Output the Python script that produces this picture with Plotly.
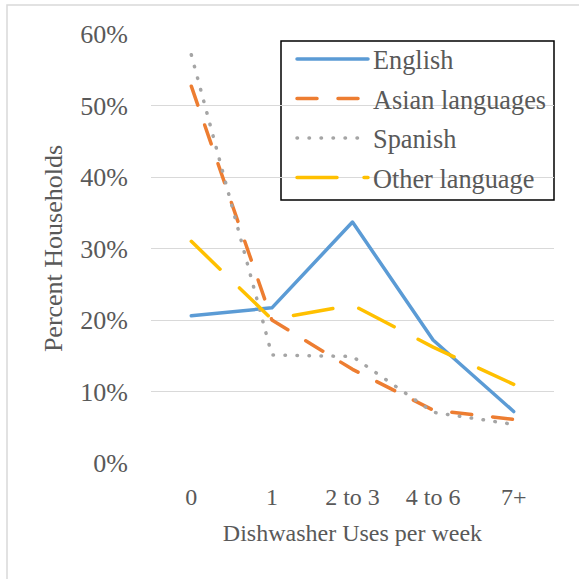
import plotly.graph_objects as go

# Weekly dishwasher use by household language
categories = ["0", "1", "2 to 3", "4 to 6", "7+"]
english = [0.206, 0.217, 0.337, 0.172, 0.072]
asian = [0.527, 0.200, 0.131, 0.074, 0.061]
spanish = [0.571, 0.151, 0.149, 0.071, 0.054]
other = [0.310, 0.201, 0.221, 0.162, 0.110]

series = [
    ("English", english, "#5B9BD5", "solid"),
    ("Asian languages", asian, "#ED7D31", "20px,21px"),
    ("Spanish", spanish, "#A5A5A5", "0.5px,11.5px"),
    ("Other language", other, "#FFC000", "40px,27px"),
]

FONT = "Liberation Serif"
TXT = "#595959"

fig = go.Figure()
for name, vals, color, dash in series:
    fig.add_trace(go.Scatter(
        x=categories, y=vals, name=name, mode="lines",
        legendgroup=name,
        line=dict(color=color, width=3.5, dash=dash),
    ))

W, H = 579, 579
L, R, T, B = 151, 25, 34, 116
pw, ph = W - L - R, H - T - B


def px_x(v):
    return (v - L) / pw


def px_y(v):
    return (H - B - v) / ph


fig.update_layout(
    width=W, height=H,
    margin=dict(l=L, r=R, t=T, b=B),
    paper_bgcolor="white", plot_bgcolor="white",
    font=dict(family=FONT, color=TXT, size=24),
    showlegend=True,
    legend=dict(
        x=px_x(283), y=px_y(35.5),
        xanchor="left", yanchor="top",
        borderwidth=0, bgcolor="rgba(0,0,0,0)",
        font=dict(family=FONT, size=26.3, color=TXT),
        tracegroupgap=2.3,
        itemwidth=80,
    ),
    xaxis=dict(
        type="category",
        range=[-0.5, 4.5],
        showgrid=False, zeroline=False, showline=False,
        ticks="", ticklabelstandoff=17,
        tickfont=dict(family=FONT, size=24, color=TXT),
        title=dict(text="Dishwasher Uses per week",
                   font=dict(family=FONT, size=24, color=TXT), standoff=15),
    ),
    yaxis=dict(
        range=[0, 0.6], dtick=0.1, tickformat=".0%",
        showgrid=True, gridcolor="#D9D9D9", gridwidth=1.3,
        zeroline=False, showline=False,
        ticks="", ticklabelstandoff=22,
        tickfont=dict(family=FONT, size=26, color=TXT),
        title=dict(text="Percent Households",
                   font=dict(family=FONT, size=26, color=TXT), standoff=10),
    ),
)

# Outer chart frame
fig.add_shape(
    type="rect", xref="paper", yref="paper",
    x0=px_x(7), x1=px_x(W + 20), y0=px_y(H + 20), y1=px_y(5),
    line=dict(color="#D9D9D9", width=1.5), fillcolor="rgba(0,0,0,0)",
    layer="below",
)

# Legend frame
fig.add_shape(
    type="rect", xref="paper", yref="paper",
    x0=px_x(281), x1=px_x(554), y0=px_y(200), y1=px_y(41),
    line=dict(color="black", width=1.5), fillcolor="white",
    layer="between",
)

# Round line caps everywhere and longer legend keys
post = """
document.querySelectorAll('path.js-line').forEach(function(p){
  p.style.strokeLinecap = 'round';
  p.style.strokeLinejoin = 'round';
});
document.querySelectorAll('.legend .legendlines path').forEach(function(p){
  p.setAttribute('d', 'M14,0h71');
});
"""
fig.write_html("out.html", post_script=post)
